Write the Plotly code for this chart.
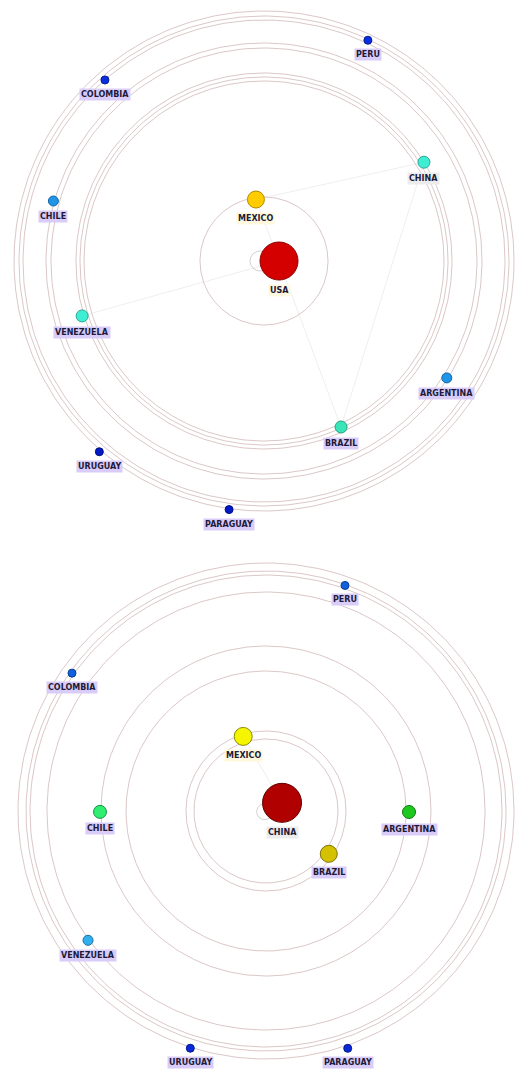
import numpy as np
import plotly.graph_objects as go

# ---- Panel 1: USA-centred network -------------------------------------------
TOP_COUNTRIES = ["USA", "MEXICO", "CHINA", "VENEZUELA", "BRAZIL", "CHILE",
                 "ARGENTINA", "COLOMBIA", "PERU", "URUGUAY", "PARAGUAY"]
TOP_RADIUS = [15, 62, 188, 190, 183, 219, 217, 241, 244, 252, 251]
TOP_ANGLE = [0, 97.5, 31.7, 196.8, 294.9, 164.1, 327.4, 131.3, 64.8, 229.2, 262.0]
TOP_SIZE = [38, 17, 12, 12, 12, 10, 10, 8, 8, 8, 8]
TOP_COLOR = ["#d40000", "#ffcc00", "#3eeed2", "#3eeed2", "#38e4b8", "#1f95e8",
             "#1f95e8", "#0a2fe0", "#0a2fe0", "#0019c8", "#0019c8"]
TOP_LINE = ["#8b0000", "#b08a00", "#2aa898", "#2aa898", "#28a080", "#1466a8",
            "#1466a8", "#061c90", "#061c90", "#001080", "#001080"]
TOP_RINGS = [64, 180, 184, 188, 213, 218, 241, 245, 250]
TOP_EDGES = [("USA", "MEXICO"), ("USA", "VENEZUELA"), ("USA", "BRAZIL"),
             ("MEXICO", "CHINA"), ("CHINA", "BRAZIL")]
TOP_LOOP = 10

# ---- Panel 2: China-centred network -----------------------------------------
BOT_COUNTRIES = ["CHINA", "MEXICO", "BRAZIL", "CHILE", "ARGENTINA", "VENEZUELA",
                 "COLOMBIA", "PERU", "URUGUAY", "PARAGUAY"]
BOT_RADIUS = [18, 78, 76, 166, 143, 220, 238, 239, 249, 251]
BOT_ANGLE = [27, 107, 325.7, 180.3, 359.6, 216, 144.6, 70.7, 252.3, 289]
BOT_SIZE = [39, 18, 17, 13, 13, 10, 8, 8, 8, 8]
BOT_COLOR = ["#b00000", "#f5f500", "#d4c200", "#30ee70", "#1ec81e", "#30b0ee",
             "#1060e0", "#1060e0", "#0a28d8", "#0a28d8"]
BOT_LINE = ["#600000", "#8a8a00", "#807000", "#1a9048", "#107810", "#1a70a0",
            "#083c90", "#083c90", "#041890", "#041890"]
BOT_RINGS = [72, 80, 140, 165, 219, 236, 240, 248]
BOT_EDGES = [("CHINA", "MEXICO")]
BOT_LOOP = 8

# label backgrounds
HUB_LABEL_BG = {"USA": "#fff8e0", "MEXICO": "#fff8dc", "CHINA": "#ececec"}
DEFAULT_LABEL_BG = "#d9ccf8"

RING_COLOR = "rgba(175,130,130,0.45)"
EDGE_COLOR = "rgba(200,190,190,0.28)"

fig = go.Figure()
annotations = []


def polar_xy(r, deg):
    t = np.deg2rad(np.asarray(deg, dtype=float))
    r = np.asarray(r, dtype=float)
    return r * np.cos(t), r * np.sin(t)


def draw_panel(names, radius, angle, size, color, line, rings, edges, loop_r,
               xa, ya):
    xs, ys = polar_xy(radius, angle)
    pos = {n: (x, y) for n, x, y in zip(names, xs, ys)}
    theta = np.linspace(0, 2 * np.pi, 361)

    # concentric orbit rings
    for r in rings:
        fig.add_trace(go.Scatter(x=r * np.cos(theta), y=r * np.sin(theta),
                                 mode="lines", xaxis=xa, yaxis=ya,
                                 line=dict(color=RING_COLOR, width=1),
                                 hoverinfo="skip", showlegend=False))

    # self loop on the hub, sitting on its edge facing the layout centre
    hx, hy = xs[0], ys[0]
    d = np.hypot(hx, hy)
    ux, uy = -hx / d, -hy / d
    cx, cy = hx + ux * size[0] / 2, hy + uy * size[0] / 2
    fig.add_trace(go.Scatter(x=cx + loop_r * np.cos(theta),
                             y=cy + loop_r * np.sin(theta),
                             mode="lines", xaxis=xa, yaxis=ya,
                             line=dict(color="rgba(170,160,160,0.5)", width=1),
                             hoverinfo="skip", showlegend=False))

    # links
    ex, ey = [], []
    for a, b in edges:
        ex += [pos[a][0], pos[b][0], None]
        ey += [pos[a][1], pos[b][1], None]
    fig.add_trace(go.Scatter(x=ex, y=ey, mode="lines", xaxis=xa, yaxis=ya,
                             line=dict(color=EDGE_COLOR, width=1),
                             hoverinfo="skip", showlegend=False))

    # nodes
    fig.add_trace(go.Scatter(x=xs, y=ys, mode="markers", xaxis=xa, yaxis=ya,
                             marker=dict(size=size, color=color,
                                         line=dict(color=line, width=1),
                                         opacity=1),
                             text=names, hoverinfo="text", showlegend=False))

    # labels under each node
    for n, x, y, s in zip(names, xs, ys, size):
        annotations.append(dict(
            x=x, y=y, xref=xa, yref=ya, text="<b>%s</b>" % n,
            showarrow=False, yanchor="top", xanchor="center",
            yshift=-(s / 2 + 4),
            font=dict(family="DejaVu Sans", size=8, color="#1c1a38"),
            bgcolor=HUB_LABEL_BG.get(n, DEFAULT_LABEL_BG),
            borderpad=1))


draw_panel(TOP_COUNTRIES, TOP_RADIUS, TOP_ANGLE, TOP_SIZE, TOP_COLOR, TOP_LINE,
           TOP_RINGS, TOP_EDGES, TOP_LOOP, "x", "y")
draw_panel(BOT_COUNTRIES, BOT_RADIUS, BOT_ANGLE, BOT_SIZE, BOT_COLOR, BOT_LINE,
           BOT_RINGS, BOT_EDGES, BOT_LOOP, "x2", "y2")

hidden = dict(visible=False, showgrid=False, zeroline=False, fixedrange=True)
fig.update_layout(
    width=518, height=1070, autosize=False,
    margin=dict(l=0, r=0, t=0, b=0),
    paper_bgcolor="white", plot_bgcolor="white",
    xaxis=dict(domain=[0, 1], range=[-264, 254], anchor="y", **hidden),
    yaxis=dict(domain=[0.5, 1], range=[-274, 261], anchor="x", **hidden),
    xaxis2=dict(domain=[0, 1], range=[-266, 252], anchor="y2", **hidden),
    yaxis2=dict(domain=[0, 0.5], range=[-259, 276], anchor="x2", **hidden),
    annotations=annotations,
)

fig.write_html("out.html")
